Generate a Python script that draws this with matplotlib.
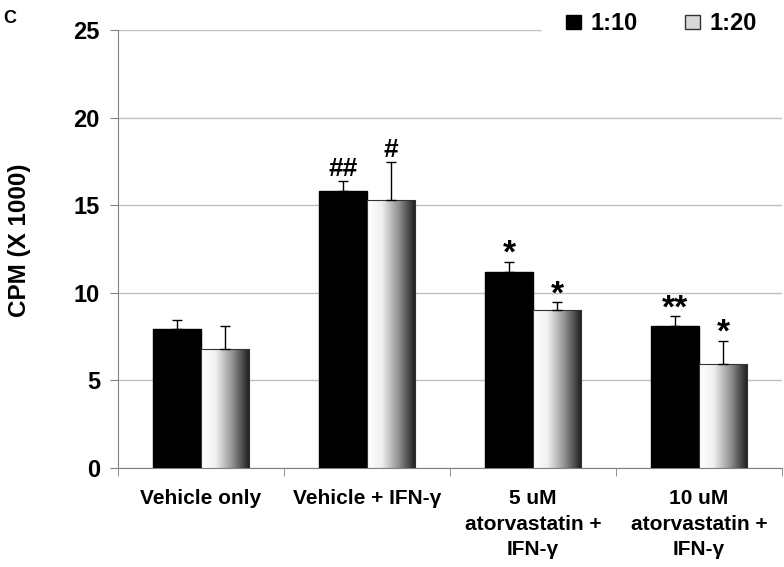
import numpy as np
import matplotlib
matplotlib.use("Agg")
import matplotlib.pyplot as plt
from matplotlib.colors import LinearSegmentedColormap
from matplotlib.patches import Patch

plt.rcParams['font.family'] = ['Liberation Sans', 'DejaVu Sans']
plt.rcParams['font.weight'] = 'bold'

categories = ["Vehicle only", "Vehicle + IFN-γ", "5 uM\natorvastatin +\nIFN-γ",
              "10 uM\natorvastatin +\nIFN-γ"]
ratio_10 = [7.93, 15.81, 11.2, 8.1]
ratio_20 = [6.79, 15.31, 9.02, 5.92]
err_10 = [0.52, 0.57, 0.58, 0.58]
err_20 = [1.31, 2.16, 0.44, 1.35]
marks_10 = ["", "##", "*", "**"]
marks_20 = ["", "#", "*", "*"]

fig = plt.figure(figsize=(7.84, 5.67), dpi=100)
ax = fig.add_axes([0.1505, 0.1746, 0.847, 0.7724])

x = np.arange(len(categories))
w = 0.29
grad = LinearSegmentedColormap.from_list(
    "g", [(0, "#ffffff"), (0.3, "#f0f0f0"), (0.65, "#909090"), (1, "#1a1a1a")])
gimg = np.linspace(0, 1, 256).reshape(1, -1)

ax.bar(x - w / 2, ratio_10, w, color="black", edgecolor="black", zorder=3)
bars20 = ax.bar(x + w / 2, ratio_20, w, color="none", edgecolor="#333333",
                linewidth=0.8, zorder=4)
for b in bars20:
    im = ax.imshow(gimg, cmap=grad, aspect="auto", zorder=3,
                   extent=[b.get_x(), b.get_x() + b.get_width(), 0, b.get_height()])
    im.set_clip_path(b)

ax.errorbar(x - w / 2, ratio_10, yerr=[np.zeros(4), err_10], fmt="none",
            ecolor="black", elinewidth=1, capsize=3.5, capthick=1, zorder=5)
ax.errorbar(x + w / 2, ratio_20, yerr=[np.zeros(4), err_20], fmt="none",
            ecolor="black", elinewidth=1, capsize=3.5, capthick=1, zorder=5)


def mark(xpos, top, s):
    if not s:
        return
    if "*" in s:
        ax.text(xpos, top - 0.48, s, ha="center", va="bottom", fontsize=24,
                fontweight="bold")
    else:
        ax.text(xpos, top + 0.02, s, ha="center", va="bottom", fontsize=19,
                fontweight="bold")


for i in range(len(categories)):
    mark(x[i] - w / 2, ratio_10[i] + err_10[i], marks_10[i])
    mark(x[i] + w / 2, ratio_20[i] + err_20[i], marks_20[i])

ax.set_xlim(-0.5, len(categories) - 0.5)
ax.set_ylim(0, 25)
ax.set_yticks([0, 5, 10, 15, 20, 25])
ax.yaxis.grid(True, color="#c0c0c0", linewidth=1, zorder=0)
ax.set_axisbelow(True)

ax.set_xticks(x)
ax.set_xticklabels(categories, fontsize=15, fontweight="bold", linespacing=1.45)
ax.set_xticks(np.arange(len(categories) + 1) - 0.5, minor=True)
ax.tick_params(axis="x", which="major", length=0, pad=15)
ax.tick_params(axis="x", which="minor", length=6, color="#808080")
ax.tick_params(axis="y", length=6, color="#808080", labelsize=17, pad=7)
for lbl in ax.get_yticklabels():
    lbl.set_fontweight("bold")

for s in ["top", "right"]:
    ax.spines[s].set_visible(False)
for s in ["left", "bottom"]:
    ax.spines[s].set_color("#808080")

fig.text(20 / 784, 1 - 240 / 567, "CPM (X 1000)", rotation=90, ha="center",
         va="center", fontsize=17.5, fontweight="bold")

h1 = Patch(facecolor="black", edgecolor="black")
h2 = Patch(facecolor="#d8d8d8", edgecolor="#333333")
leg = ax.legend([h1, h2], ["1:10", "1:20"], loc="center right",
                bbox_to_anchor=(1.016, 1.014), ncol=2, frameon=True, fancybox=False,
                edgecolor="white", framealpha=1, handlelength=0.65,
                handleheight=0.5, handletextpad=0.4, columnspacing=2.0,
                borderpad=1.0, prop={"weight": "bold", "size": 17})

fig.text(3 / 784, 1 - 10 / 567, "C", fontsize=13, fontweight="bold", va="top")

fig.savefig("out.png", dpi=100)
